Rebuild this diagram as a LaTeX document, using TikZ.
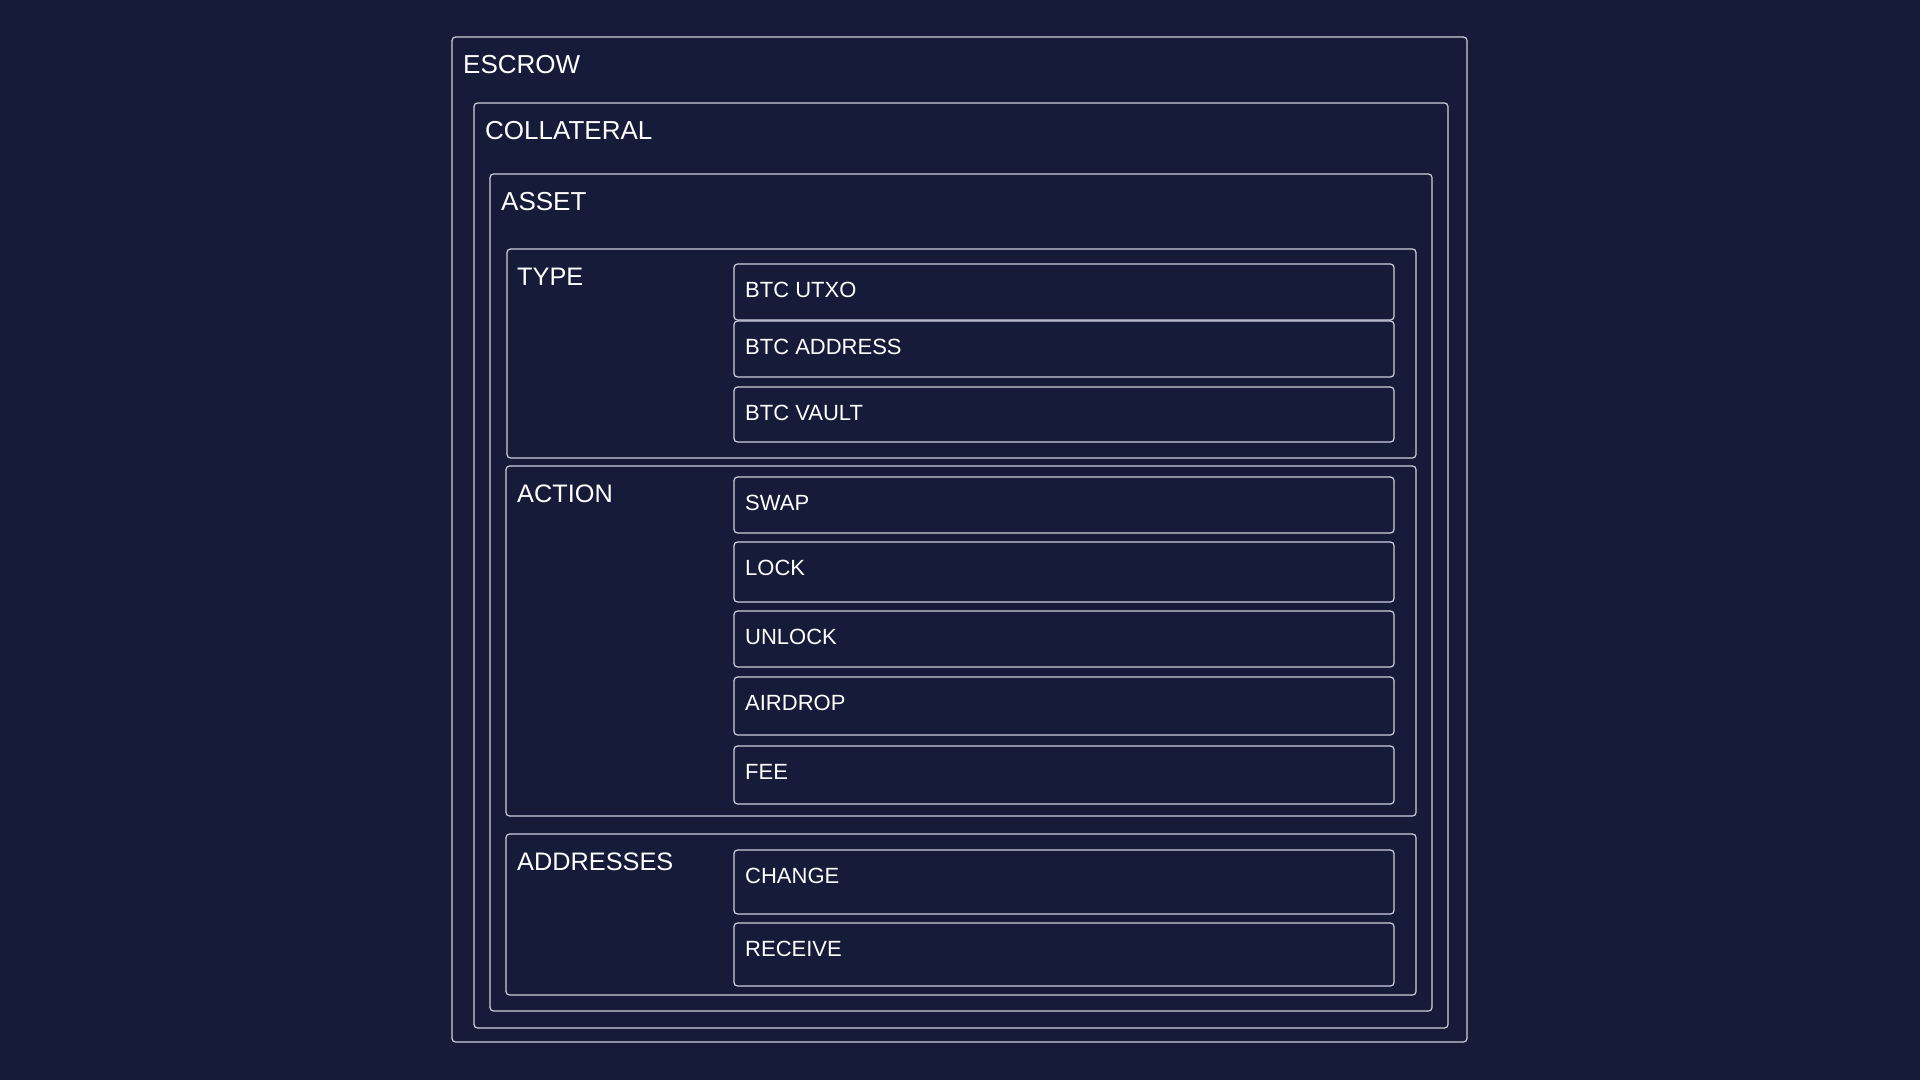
\documentclass[tikz,border=0pt]{standalone}
\usepackage{fontspec}
\setmainfont{Liberation Sans}
\usepackage{tikz}

\definecolor{bgnavy}{HTML}{171B3A}
\definecolor{edgegray}{HTML}{CDD0DC}

\tikzset{
    box/.style={draw=edgegray, line width=1.2pt, rounded corners=3.5pt, anchor=north west, inner sep=0pt, outer sep=0pt},
    biglbl/.style={text=white, anchor=base west, inner sep=0pt, font=\fontsize{26}{30}\selectfont},
    seclbl/.style={text=white, anchor=base west, inner sep=0pt, font=\fontsize{25.3}{29}\selectfont},
    itemlbl/.style={text=white, anchor=base west, inner sep=0pt, font=\fontsize{22}{26}\selectfont}
}

\begin{document}
\begin{tikzpicture}[x=1pt,y=-1pt]
    % background, sets the diagram size
    \fill[bgnavy] (0,0) rectangle (1920,1080);
    \useasboundingbox (0,0) rectangle (1920,1080);

    %Shape: outer boxes
    \node (escrow) [box, minimum width=1015pt, minimum height=1005pt] at (452,37) {};
    \node (collateral) [box, minimum width=974pt, minimum height=925pt] at (474,103) {};
    \node (asset) [box, minimum width=942pt, minimum height=837pt] at (490,174) {};

    %Shape: section boxes
    \node (type) [box, minimum width=909pt, minimum height=209pt] at (507,249) {};
    \node (action) [box, minimum width=910pt, minimum height=350pt] at (506,466) {};
    \node (addresses) [box, minimum width=910pt, minimum height=161pt] at (506,834) {};

    %Shape: item boxes of TYPE
    \node (utxo) [box, minimum width=660pt, minimum height=56pt] at (734,264) {};
    \node (btcaddr) [box, minimum width=660pt, minimum height=56pt] at (734,321) {};
    \node (vault) [box, minimum width=660pt, minimum height=55pt] at (734,387) {};

    %Shape: item boxes of ACTION
    \node (swap) [box, minimum width=660pt, minimum height=56pt] at (734,477) {};
    \node (lock) [box, minimum width=660pt, minimum height=60pt] at (734,542) {};
    \node (unlock) [box, minimum width=660pt, minimum height=56pt] at (734,611) {};
    \node (airdrop) [box, minimum width=660pt, minimum height=58pt] at (734,677) {};
    \node (fee) [box, minimum width=660pt, minimum height=58pt] at (734,746) {};

    %Shape: item boxes of ADDRESSES
    \node (change) [box, minimum width=660pt, minimum height=64pt] at (734,850) {};
    \node (receive) [box, minimum width=660pt, minimum height=63pt] at (734,923) {};

    % Text Node
    \node (escrowtxt) [biglbl] at (463,73) {ESCROW};
    \node (collateraltxt) [biglbl] at (485,139) {COLLATERAL};
    \node (assettxt) [biglbl] at (501,210) {ASSET};
    % Text Node
    \node (typetxt) [seclbl] at (517,285) {TYPE};
    \node (actiontxt) [seclbl] at (517,502) {ACTION};
    \node (addressestxt) [seclbl] at (517,870) {ADDRESSES};
    % Text Node
    \node (utxotxt) [itemlbl] at (745,297) {BTC UTXO};
    \node (btcaddrtxt) [itemlbl] at (745,354) {BTC ADDRESS};
    \node (vaulttxt) [itemlbl] at (745,420) {BTC VAULT};
    \node (swaptxt) [itemlbl] at (745,510) {SWAP};
    \node (locktxt) [itemlbl] at (745,575) {LOCK};
    \node (unlocktxt) [itemlbl] at (745,644) {UNLOCK};
    \node (airdroptxt) [itemlbl] at (745,710) {AIRDROP};
    \node (feetxt) [itemlbl] at (745,779) {FEE};
    \node (changetxt) [itemlbl] at (745,883) {CHANGE};
    \node (receivetxt) [itemlbl] at (745,956) {RECEIVE};

\end{tikzpicture}
\end{document}
